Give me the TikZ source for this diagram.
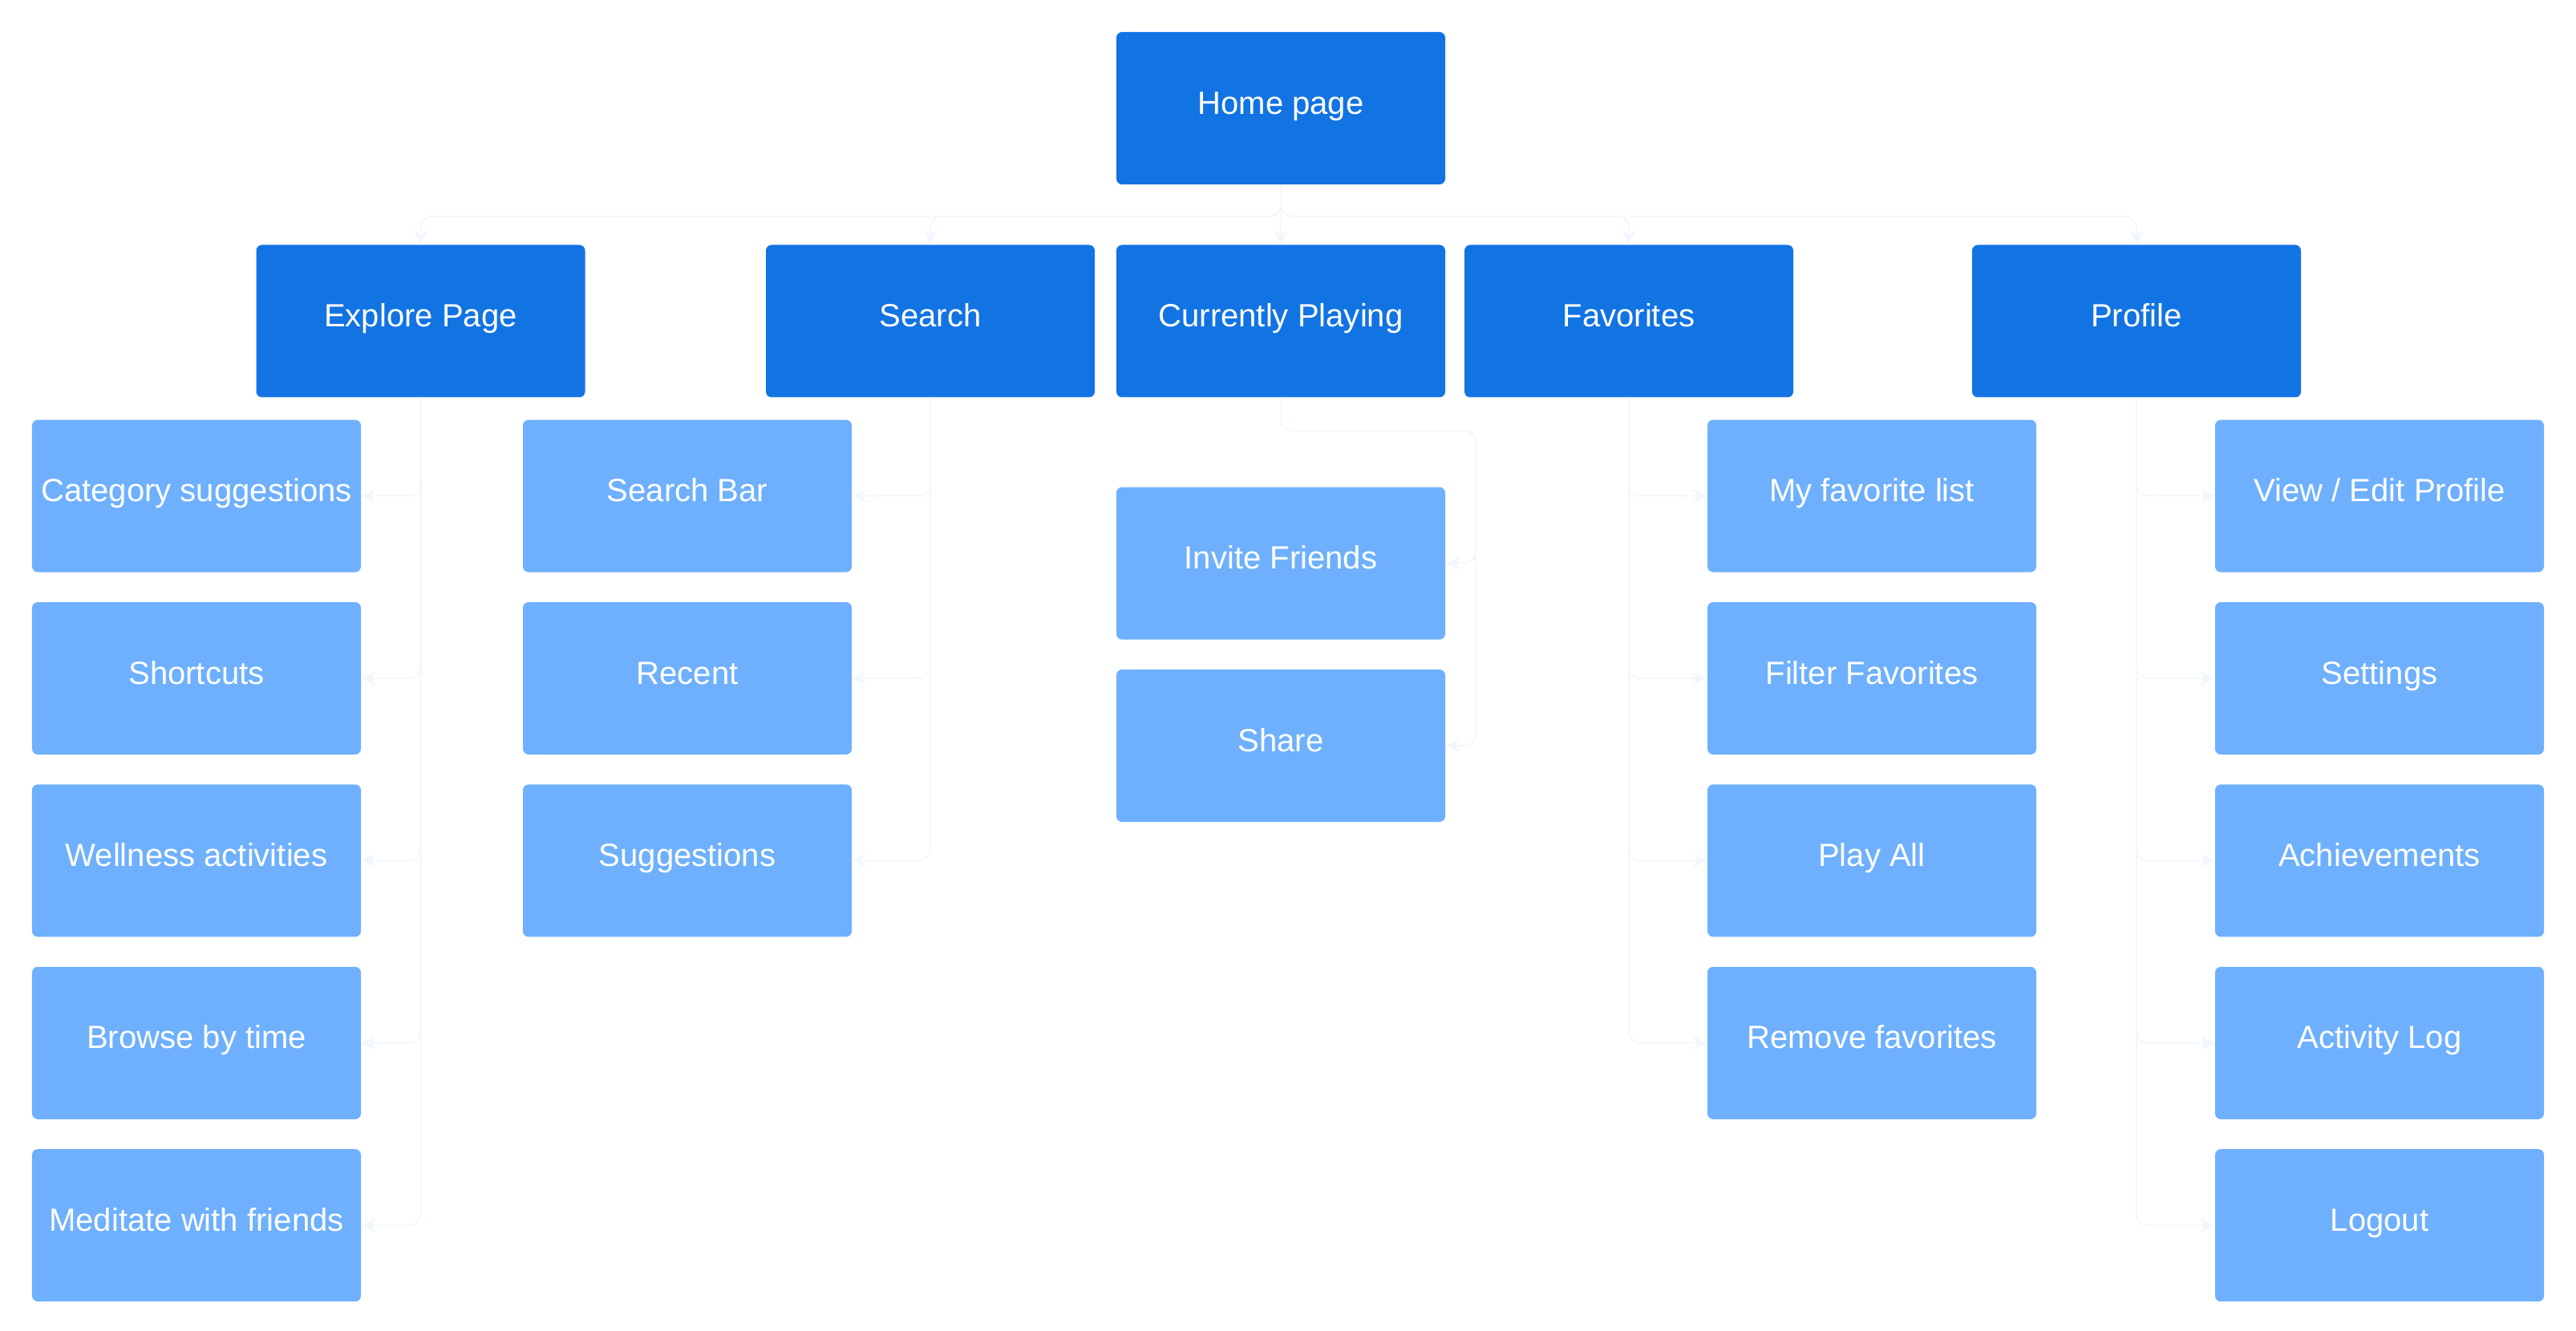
\documentclass[tikz,border=0pt]{standalone}
\usepackage{fontspec}
\setmainfont{Liberation Sans}
\usetikzlibrary{arrows.meta,positioning,calc}
\definecolor{navblue}{RGB}{18,115,227}
\definecolor{subblue}{RGB}{110,176,253}
\definecolor{linkfaint}{RGB}{242,247,253}

\begin{document}
\begin{tikzpicture}[
  node distance=0.36cm,
  topbox/.style={fill=navblue, rounded corners=2pt, minimum width=4.1cm, minimum height=1.9cm,
                 inner sep=0pt, text=white, font=\fontsize{11.4}{13}\selectfont,
                 text height=8.4pt, text depth=4.4pt},
  subbox/.style={topbox, fill=subblue},
  link/.style={-{Stealth[length=5pt,width=5pt]}, draw=linkfaint, line width=0.5pt, rounded corners=4pt}
]
\useasboundingbox (0,0) rectangle (32.12,16.59);
\node[topbox] (home)    at (15.97,15.24) {Home page};
\node[topbox] (explore) at (5.245,12.585) {Explore Page};
\node[topbox] (search)  at (11.60,12.585) {Search};
\node[topbox] (playing) at (15.97,12.585) {Currently Playing};
\node[topbox] (favs)    at (20.31,12.585) {Favorites};
\node[topbox] (profile) at (26.64,12.585) {Profile};

\node[subbox] (category) at (2.45,10.404) {Category suggestions};
\node[subbox, below=of category] (shortcuts) {Shortcuts};
\node[subbox, below=of shortcuts] (wellness)  {Wellness activities};
\node[subbox, below=of wellness]  (browse)    {Browse by time};
\node[subbox, below=of browse]    (meditate)  {Meditate with friends};

\node[subbox] (searchbar) at (8.57,10.404) {Search Bar};
\node[subbox, below=of searchbar] (recent)      {Recent};
\node[subbox, below=of recent]    (suggestions) {Suggestions};

\node[subbox] (invite) at (15.97,9.564) {Invite Friends};
\node[subbox, below=of invite] (share) {Share};

\node[subbox] (favlist) at (23.34,10.404) {My favorite list};
\node[subbox, below=of favlist] (filterfav) {Filter Favorites};
\node[subbox, below=of filterfav] (playall)  {Play All};
\node[subbox, below=of playall]   (removefav) {Remove favorites};

\node[subbox] (editprofile) at (29.67,10.404) {View / Edit Profile};
\node[subbox, below=of editprofile] (settings)     {Settings};
\node[subbox, below=of settings]    (achievements) {Achievements};
\node[subbox, below=of achievements] (activity)    {Activity Log};
\node[subbox, below=of activity]    (logout)       {Logout};

\coordinate (playturn) at (18.40,11.22);

\foreach \top in {explore,search,playing,favs,profile}
  \draw[link] (home.south) -- ++(0,-0.39) -| (\top.north);
\foreach \sub in {category,shortcuts,wellness,browse,meditate}
  \draw[link] (explore.south) |- (\sub.east);
\foreach \sub in {searchbar,recent,suggestions}
  \draw[link] (search.south) |- (\sub.east);
\foreach \sub in {invite,share}
  \draw[link] (playing.south) |- (playturn) |- (\sub.east);
\foreach \sub in {favlist,filterfav,playall,removefav}
  \draw[link] (favs.south) |- (\sub.west);
\foreach \sub in {editprofile,settings,achievements,activity,logout}
  \draw[link] (profile.south) |- (\sub.west);
\end{tikzpicture}
\end{document}
